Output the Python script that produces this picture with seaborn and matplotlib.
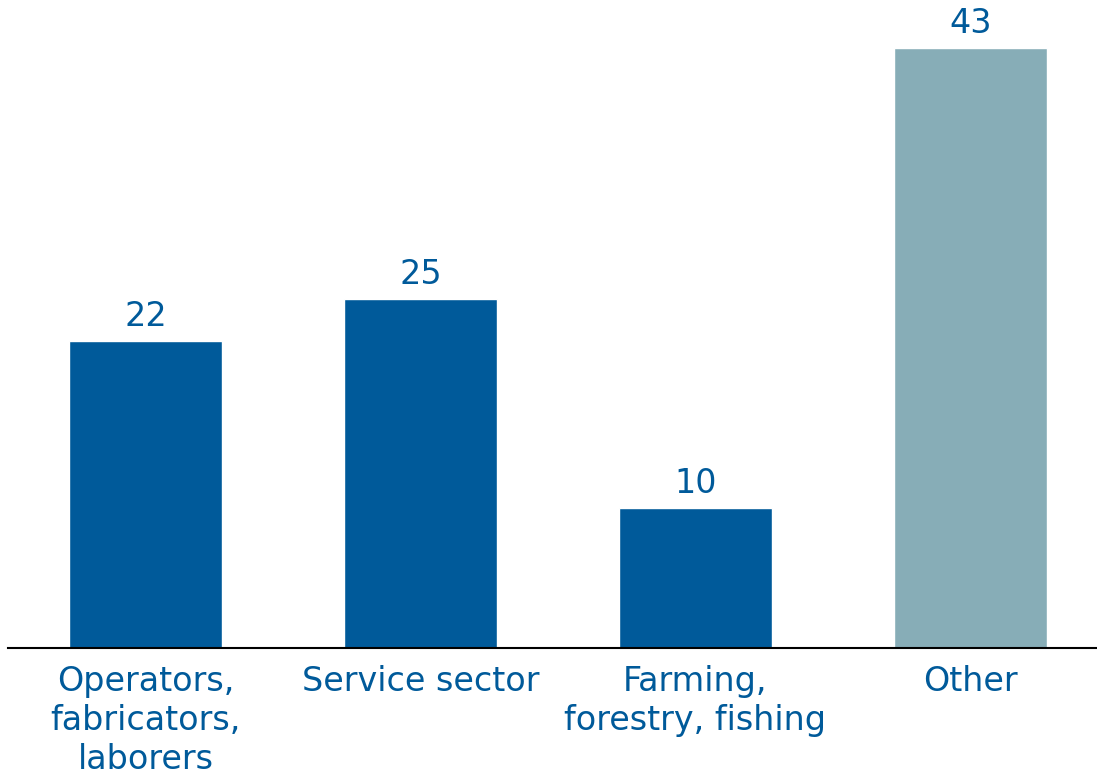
import matplotlib
matplotlib.use("Agg")
import matplotlib.pyplot as plt
import seaborn as sns
import pandas as pd

categories = ["Operators,\nfabricators,\nlaborers", "Service sector",
              "Farming,\nforestry, fishing", "Other"]
values = [22, 25, 10, 43]
bar_colors = ["#005A9A", "#005A9A", "#005A9A", "#87ADB7"]
text_color = "#005A9A"

sns.set_theme(style="white")
plt.rcParams["font.family"] = ["DejaVu Sans"]

df = pd.DataFrame({"category": categories, "value": values})

fig = plt.figure(figsize=(10.97, 7.74), dpi=100)
ax = fig.add_axes([8 / 1097, 126 / 774, 1 - 8 / 1097, 1 - 126 / 774])

sns.barplot(data=df, x="category", y="value", hue="category",
            palette=bar_colors, legend=False, width=0.556,
            saturation=1, ax=ax)

for container in ax.containers:
    ax.bar_label(container, fmt="%d", padding=6, fontsize=24,
                 color=text_color)

ax.set_xlim(-0.5, 3.46)
ax.set_ylim(0, 46.45)
ax.set_xlabel("")
ax.set_ylabel("")
ax.set_yticks([])
ax.tick_params(axis="x", length=0, pad=12, labelsize=24,
               labelcolor=text_color)
for lbl in ax.get_xticklabels():
    lbl.set_linespacing(1.24)

for side in ["top", "left", "right"]:
    ax.spines[side].set_visible(False)
ax.spines["bottom"].set_color("black")
ax.spines["bottom"].set_linewidth(1.5)

fig.savefig("out.png", dpi=100, facecolor="white")
